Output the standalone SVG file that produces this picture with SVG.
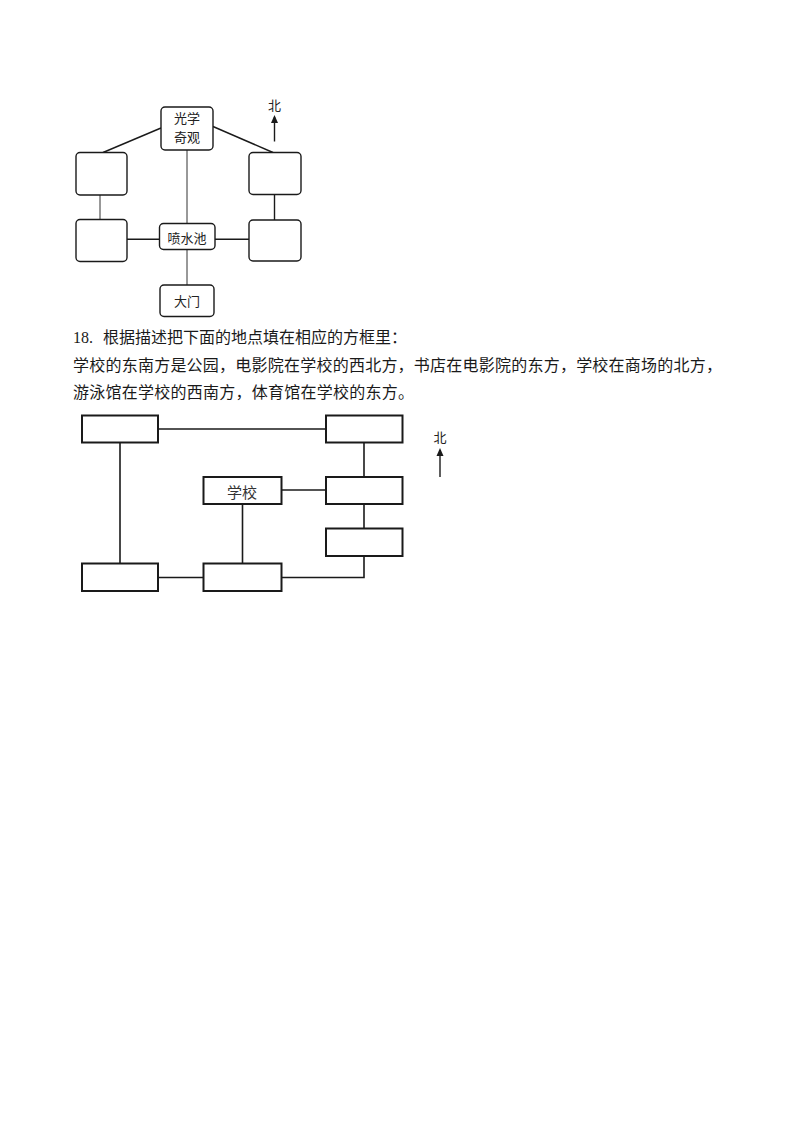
<svg xmlns="http://www.w3.org/2000/svg" width="800" height="1132" viewBox="0 0 800 1132">
<style>
.bg{fill:#ffffff}
.rb{fill:#ffffff;stroke:#1a1a1a;stroke-width:1.4}
.sb{fill:#ffffff;stroke:#1a1a1a;stroke-width:2}
.ln{stroke:#1a1a1a;stroke-width:1.4;fill:none}
.lg{stroke:#333;stroke-width:1;fill:none}
.ln2{stroke:#1a1a1a;stroke-width:1.6;fill:none}
.lab{font-family:"Noto Sans CJK SC","Noto Sans",sans-serif;font-size:13px;fill:#222;text-anchor:middle;dominant-baseline:central}
.lab2{font-family:"Noto Sans CJK SC","Noto Sans",sans-serif;font-size:15px;fill:#333;text-anchor:middle;dominant-baseline:central}
.txt{font-family:"Noto Sans CJK SC",sans-serif;font-size:16px;fill:#1a1a1a}
.num{font-family:"Liberation Serif",serif;font-size:16px;fill:#1a1a1a}
</style>
<defs>
<marker id="ah" markerWidth="8" markerHeight="8" refX="6" refY="4" orient="auto" markerUnits="userSpaceOnUse">
<path d="M0,0.5 L8,4 L0,7.5 Z" fill="#1a1a1a"/>
</marker>
</defs>
<rect class="bg" x="0" y="0" width="800" height="1132"/>

<g id="connectors1">
<line class="ln" x1="161" y1="128" x2="103" y2="152.5"/>
<line class="ln" x1="213" y1="126.5" x2="273" y2="152.5"/>
<line class="lg" x1="187" y1="150" x2="187" y2="223.5"/>
<line class="lg" x1="187" y1="249.5" x2="187" y2="285"/>
<line class="lg" x1="100" y1="195" x2="100" y2="219.5"/>
<line class="ln" x1="274.5" y1="194.5" x2="274.5" y2="220"/>
<line class="ln" x1="127" y1="239.3" x2="159.5" y2="239.3"/>
<line class="ln" x1="215" y1="239.3" x2="249" y2="239.3"/>
</g>

<g id="guangxue"><rect class="rb" x="161" y="107" width="52" height="43" rx="4"/><text class="lab" x="187" y="117.5">光学</text><text class="lab" x="187" y="136.5">奇观</text></g>
<g id="lt1"><rect class="rb" x="76" y="152.5" width="51" height="42.5" rx="4"/></g>
<g id="lb1"><rect class="rb" x="76" y="219.5" width="51" height="42" rx="4"/></g>
<g id="rt1"><rect class="rb" x="249" y="152.5" width="52" height="42" rx="4"/></g>
<g id="rb1"><rect class="rb" x="249" y="220" width="52" height="41" rx="4"/></g>
<g id="penshuichi"><rect class="rb" x="159.5" y="223.5" width="55.5" height="26" rx="4"/><text class="lab" x="187" y="237">喷水池</text></g>
<g id="damen"><rect class="rb" x="160" y="285" width="54" height="31.5" rx="4"/><text class="lab" x="187" y="300.5">大门</text></g>
<g id="north1"><line class="ln" x1="274.5" y1="141.5" x2="274.5" y2="117" marker-end="url(#ah)"/><text class="lab" x="274.5" y="104">北</text></g>

<g id="question">
<text class="num" x="73" y="343">18.</text>
<text class="txt" x="103" y="343">根据描述把下面的地点填在相应的方框里：</text>
<text class="txt" x="73" y="371" textLength="649" lengthAdjust="spacing">学校的东南方是公园，电影院在学校的西北方，书店在电影院的东方，学校在商场的北方，</text>
<text class="txt" x="73" y="398" textLength="341" lengthAdjust="spacing">游泳馆在学校的西南方，体育馆在学校的东方。</text>
</g>

<g id="connectors2">
<line class="ln2" x1="158" y1="429" x2="326" y2="429"/>
<line class="ln2" x1="120" y1="442" x2="120" y2="563.5"/>
<line class="ln2" x1="364" y1="442" x2="364" y2="477"/>
<line class="ln2" x1="281.5" y1="490" x2="326" y2="490"/>
<line class="ln2" x1="364" y1="504" x2="364" y2="528.5"/>
<line class="ln2" x1="242.5" y1="504" x2="242.5" y2="563.5"/>
<line class="ln2" x1="158" y1="577.5" x2="203.5" y2="577.5"/>
<polyline class="ln2" points="281.5,577.5 364,577.5 364,556"/>
</g>

<g id="b_tl"><rect class="sb" x="82" y="415.5" width="76" height="27"/></g>
<g id="b_tr"><rect class="sb" x="326" y="415.5" width="76.5" height="27"/></g>
<g id="b_school"><rect class="sb" x="203.5" y="477" width="78" height="27"/><text class="lab2" x="242" y="491">学校</text></g>
<g id="b_mr"><rect class="sb" x="326" y="477" width="76.5" height="27"/></g>
<g id="b_lr"><rect class="sb" x="326" y="528.5" width="76.5" height="27.5"/></g>
<g id="b_bl"><rect class="sb" x="82" y="563.5" width="76" height="27.5"/></g>
<g id="b_bm"><rect class="sb" x="203.5" y="563.5" width="78" height="27.5"/></g>
<g id="north2"><line class="ln" x1="440" y1="477" x2="440" y2="450" marker-end="url(#ah)"/><text class="lab" x="440" y="436">北</text></g>
</svg>
